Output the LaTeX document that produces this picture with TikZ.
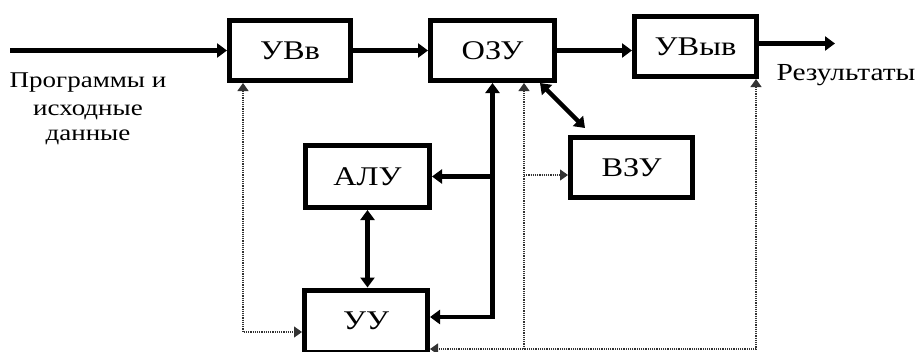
\documentclass[tikz,border=0pt]{standalone}
\usepackage{fontspec}
\setmainfont{Liberation Serif}[FakeStretch=1.2]
\usetikzlibrary{arrows.meta}
\begin{document}
\begin{tikzpicture}[x=1pt,y=-1pt,
  blk/.style={draw, line width=5pt, inner sep=0pt, font=\fontsize{27}{30}\selectfont},
  lbl/.style={inner sep=0pt, anchor=base, font=\fontsize{22.5}{26}\selectfont},
  thk/.style={line width=4.5pt},
  tip/.style={-{Triangle[length=10pt,width=14pt]}},
  dtip/.style={-{Triangle[length=8pt,width=11pt]}},
  dbl/.style={{Triangle[length=10pt,width=14pt]}-{Triangle[length=10pt,width=14pt]}},
  ddbl/.style={{Triangle[length=8pt,width=11pt]}-{Triangle[length=8pt,width=11pt]}},
  dot/.style={line width=1.2pt, densely dotted, black!80}]
\useasboundingbox (0,0) rectangle (917,351);
\clip (0,0) rectangle (917,351);
\node[blk, minimum width=121pt, minimum height=60pt] (uvv) at (290,50.5) {УВв};
\node[blk, minimum width=124pt, minimum height=60pt] (ozu) at (492.5,50.5) {ОЗУ};
\node[blk, minimum width=122pt, minimum height=60pt] (uvyv) at (695.5,46.5) {УВыв};
\node[blk, minimum width=122pt, minimum height=60pt] (vzu) at (631.5,167.5) {ВЗУ};
\node[blk, minimum width=124pt, minimum height=62pt] (alu) at (367.5,176.5) {АЛУ};
\node[blk, minimum width=123pt, minimum height=62pt] (uu) at (366,321) {УУ};
\node[lbl] (p1) at (88,87) {Программы и};
\node[lbl] (p2) at (88,115) {исходные};
\node[lbl] (p3) at (88,140) {данные};
\node[lbl, font=\fontsize{24.5}{28}\selectfont] (res) at (846,80) {Результаты};
\coordinate (in) at (10,50.5);
\coordinate (out) at (835,43.5);
\coordinate (bus) at (492.5,317);
\coordinate (c1) at (243,332);
\coordinate (c2) at (756,349);
\coordinate (c3) at (524,349);
% thick connectors
\draw[thk, tip] (in) -- (uvv.west);
\draw[thk, tip] (uvv.east) -- (ozu.west);
\draw[thk, tip] (ozu.east) -- (ozu.east -| uvyv.west);
\draw[thk, tip] ([yshift=3pt]uvyv.east) -- (out);
\draw[thk, dbl] (bus -| uu.east) -- (bus) -- (ozu.south);
\draw[thk, tip] (ozu.south |- alu.east) -- (alu.east);
\draw[thk, dbl] (alu.south) -- (alu.south |- uu.north);
\draw[thk, dbl] ([xshift=47.5pt]ozu.south) -- ([xshift=-46.5pt,yshift=7pt]vzu.north);
% dotted connectors
\draw[dot, ddbl] (c1 |- uvv.south) -- (c1) -- (uu.west |- c1);
\draw[dot, ddbl] (c2 |- uvyv.south) -- (c2) -- (uu.east |- c2);
\draw[dot, dtip] (c3) -- (c3 |- ozu.south);
\draw[dot, dtip] ([yshift=-7.5pt]vzu.west -| c3) -- ([yshift=-7.5pt]vzu.west);
\end{tikzpicture}
\end{document}
